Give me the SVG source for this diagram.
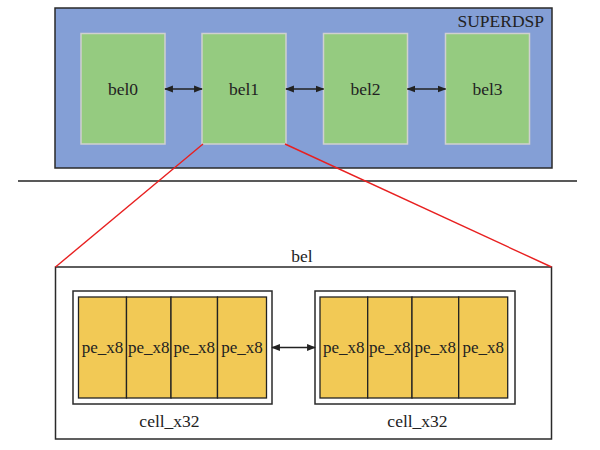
<svg xmlns="http://www.w3.org/2000/svg" width="600" height="450" viewBox="0 0 600 450">
<defs>
<style>
text{font-family:'Liberation Serif','Times New Roman',serif;fill:#222;text-anchor:middle}
.bel{fill:#95cb80;stroke:#d0d0d0;stroke-width:1.5}
.pe{fill:#f2c955;stroke:#222;stroke-width:1.3}
.box{fill:none;stroke:#2a2a2a;stroke-width:1.5}
.conn{stroke:#222;stroke-width:1.6;fill:none;marker-start:url(#ah);marker-end:url(#ah)}
.red{stroke:#e82020;stroke-width:1.4;fill:none}
</style>
<marker id="ah" viewBox="0 0 10 10" refX="9" refY="5" markerWidth="5.5" markerHeight="5.5" orient="auto-start-reverse">
<path d="M0,1 L10,5 L0,9 z" fill="#222"/>
</marker>
</defs>
<g id="superdsp">
<rect x="55" y="8" width="497" height="160" fill="#849fd6" stroke="#2a2a2a" stroke-width="1.5"/>
<text x="544" y="26.5" font-size="17.5" style="text-anchor:end">SUPERDSP</text>
</g>
<g id="bel0"><rect class="bel" x="81" y="33.5" width="84" height="110.5"/><text x="123" y="95" font-size="17.5">bel0</text></g>
<g id="bel1"><rect class="bel" x="202" y="33.5" width="84" height="110.5"/><text x="244" y="95" font-size="17.5">bel1</text></g>
<g id="bel2"><rect class="bel" x="323.5" y="33.5" width="84" height="110.5"/><text x="365.5" y="95" font-size="17.5">bel2</text></g>
<g id="bel3"><rect class="bel" x="445.5" y="33.5" width="84" height="110.5"/><text x="487.5" y="95" font-size="17.5">bel3</text></g>
<line x1="18" y1="181" x2="577" y2="181" stroke="#222" stroke-width="1.5"/>
<g id="bel">
<rect class="box" x="55.5" y="267" width="496" height="172"/>
<text x="302" y="261.5" font-size="17.5">bel</text>
</g>
<g id="cell_left">
<rect class="box" x="73" y="291" width="199" height="113"/>
<rect class="pe" x="78.5" y="297" width="48" height="101"/>
<rect class="pe" x="126.5" y="297" width="44.5" height="101"/>
<rect class="pe" x="171" y="297" width="46.5" height="101"/>
<rect class="pe" x="217.5" y="297" width="49" height="101"/>
<g font-size="17">
<text x="102.5" y="353">pe_x8</text>
<text x="148.8" y="353">pe_x8</text>
<text x="194.2" y="353">pe_x8</text>
<text x="242" y="353">pe_x8</text>
</g>
<text x="169.5" y="427" font-size="17.5">cell_x32</text>
</g>
<g id="cell_right">
<rect class="box" x="315" y="291" width="200" height="113"/>
<rect class="pe" x="320" y="297" width="47.7" height="101"/>
<rect class="pe" x="367.7" y="297" width="44.3" height="101"/>
<rect class="pe" x="412" y="297" width="46.7" height="101"/>
<rect class="pe" x="458.7" y="297" width="49" height="101"/>
<g font-size="17">
<text x="343.8" y="353">pe_x8</text>
<text x="389.8" y="353">pe_x8</text>
<text x="435.3" y="353">pe_x8</text>
<text x="483.2" y="353">pe_x8</text>
</g>
<text x="417.5" y="427" font-size="17.5">cell_x32</text>
</g>
<g id="connectors">
<line class="conn" x1="165" y1="89" x2="202" y2="89"/>
<line class="conn" x1="286" y1="89" x2="323.5" y2="89"/>
<line class="conn" x1="407.5" y1="89" x2="445.5" y2="89"/>
<line class="conn" x1="272" y1="347.5" x2="315" y2="347.5"/>
<line class="red" x1="203" y1="144" x2="55.5" y2="267"/>
<line class="red" x1="285" y1="144" x2="551.5" y2="267"/>
</g>
</svg>
